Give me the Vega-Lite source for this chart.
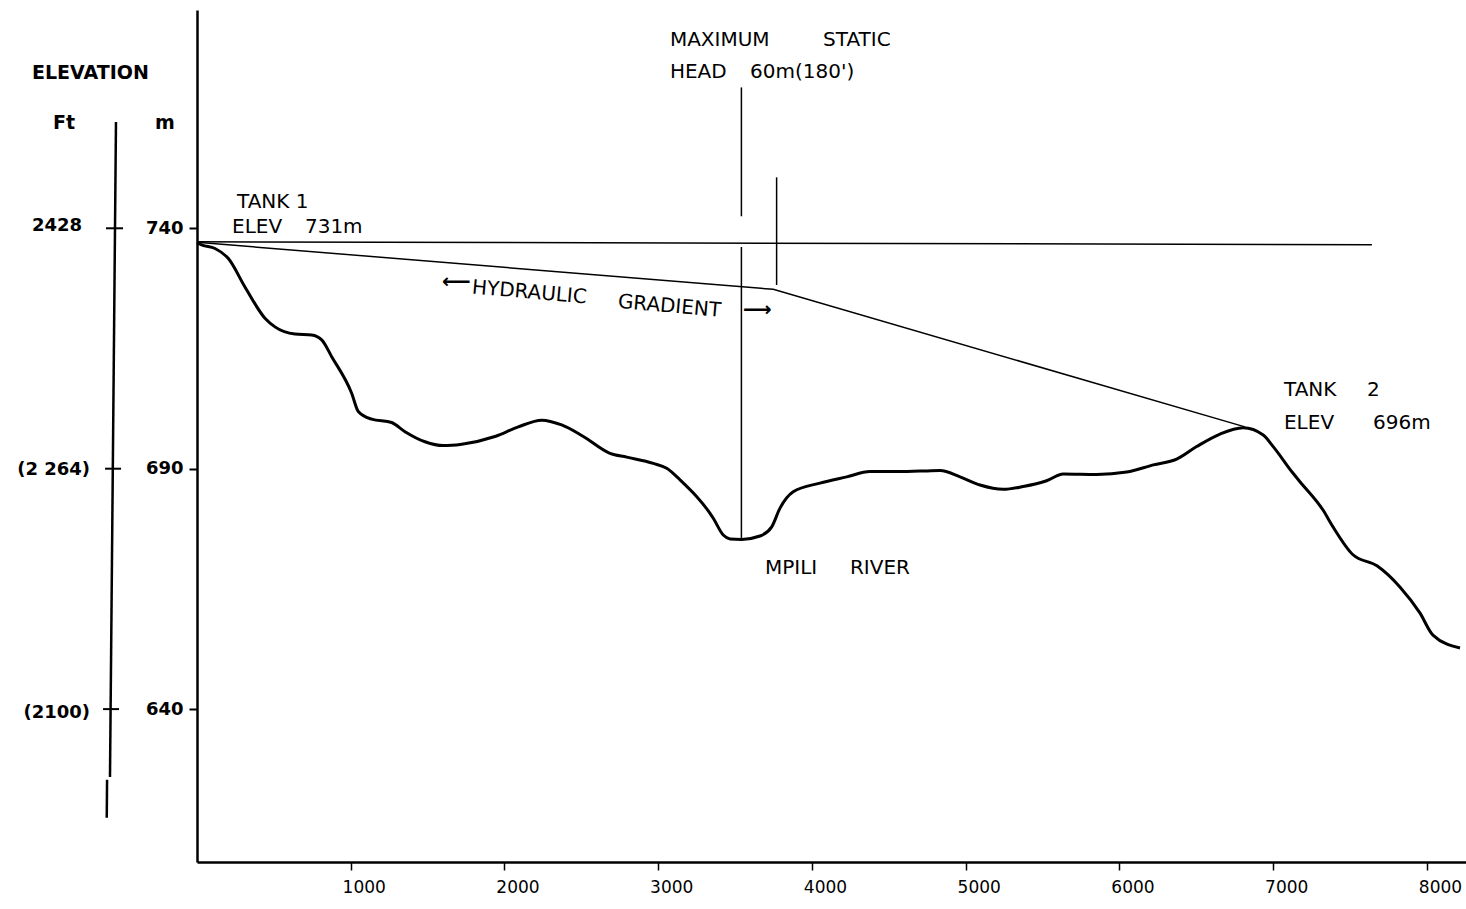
{
  "$schema": "https://vega.github.io/schema/vega-lite/v6.json",
  "width": 1269,
  "height": 852,
  "autosize": "none",
  "padding": {"left": 197, "top": 10, "right": 0, "bottom": 47},
  "background": "white",
  "config": {
    "view": {"stroke": null},
    "font": "DejaVu Sans",
    "text": {"font": "DejaVu Sans", "color": "black"}
  },
  "datasets": {
    "ground": [
      {"x": 0, "y": 737.0}, {"x": 34, "y": 736.5}, {"x": 117, "y": 735.8}, {"x": 204, "y": 733.7},
      {"x": 312, "y": 727.8}, {"x": 442, "y": 721.3}, {"x": 507, "y": 719.5}, {"x": 637, "y": 718.0},
      {"x": 746, "y": 717.8}, {"x": 811, "y": 716.8}, {"x": 876, "y": 713.3}, {"x": 1006, "y": 705.7},
      {"x": 1049, "y": 701.9}, {"x": 1136, "y": 700.3}, {"x": 1266, "y": 699.6}, {"x": 1353, "y": 697.7},
      {"x": 1483, "y": 695.6}, {"x": 1602, "y": 694.8}, {"x": 1722, "y": 695.1}, {"x": 1938, "y": 696.7},
      {"x": 2090, "y": 698.7}, {"x": 2242, "y": 700.1}, {"x": 2372, "y": 699.1}, {"x": 2513, "y": 696.7},
      {"x": 2686, "y": 693.2}, {"x": 2795, "y": 692.4}, {"x": 2968, "y": 691.1}, {"x": 3055, "y": 690.1},
      {"x": 3141, "y": 687.7}, {"x": 3358, "y": 679.7}, {"x": 3423, "y": 676.2}, {"x": 3467, "y": 675.4},
      {"x": 3543, "y": 675.3}, {"x": 3662, "y": 676.0}, {"x": 3738, "y": 677.9}, {"x": 3792, "y": 681.8},
      {"x": 3878, "y": 685.2}, {"x": 4052, "y": 687.0}, {"x": 4226, "y": 688.3}, {"x": 4377, "y": 689.4},
      {"x": 4529, "y": 689.4}, {"x": 4702, "y": 689.5}, {"x": 4833, "y": 689.6}, {"x": 4963, "y": 688.3},
      {"x": 5093, "y": 686.6}, {"x": 5244, "y": 685.7}, {"x": 5374, "y": 686.3}, {"x": 5526, "y": 687.5},
      {"x": 5634, "y": 688.9}, {"x": 5852, "y": 688.8}, {"x": 6047, "y": 689.3}, {"x": 6220, "y": 690.8},
      {"x": 6372, "y": 692.0}, {"x": 6502, "y": 694.6}, {"x": 6654, "y": 697.2}, {"x": 6805, "y": 698.5},
      {"x": 6935, "y": 697.0}, {"x": 7000, "y": 694.6}, {"x": 7128, "y": 689.1}, {"x": 7174, "y": 687.3},
      {"x": 7324, "y": 681.4}, {"x": 7389, "y": 677.9}, {"x": 7519, "y": 672.1}, {"x": 7675, "y": 669.8},
      {"x": 7824, "y": 665.4}, {"x": 7954, "y": 660.0}, {"x": 8039, "y": 655.4}, {"x": 8215, "y": 652.7}
    ],
    "thin": [
      {"series": "static", "i": 0, "x": 0, "y": 737.2},
      {"series": "static", "i": 1, "x": 7642, "y": 736.6},
      {"series": "hydraulic", "i": 0, "x": 0, "y": 737.1},
      {"series": "hydraulic", "i": 1, "x": 3748, "y": 727.3},
      {"series": "hydraulic", "i": 2, "x": 6816, "y": 698.7},
      {"series": "head_top", "i": 0, "x": 3541, "y": 769.3},
      {"series": "head_top", "i": 1, "x": 3541, "y": 742.5},
      {"series": "head_low", "i": 0, "x": 3541, "y": 736.1},
      {"series": "head_low", "i": 1, "x": 3541, "y": 675.3},
      {"series": "mark", "i": 0, "x": 3770, "y": 750.6},
      {"series": "mark", "i": 1, "x": 3770, "y": 728.2}
    ],
    "ftscale": [
      {"series": "a", "i": 0, "x": -527, "y": 762.1},
      {"series": "a", "i": 1, "x": -566, "y": 625.9},
      {"series": "b", "i": 0, "x": -585, "y": 625.3},
      {"series": "b", "i": 1, "x": -587, "y": 617.4}
    ],
    "fticks": [
      {"x": -592, "x2": -481, "y": 740},
      {"x": -598, "x2": -494, "y": 690},
      {"x": -611, "x2": -507, "y": 640}
    ],
    "ftlabels": [
      {"label": "2428", "x": -748, "y": 740.5},
      {"label": "(2 264)", "x": -696, "y": 689.7},
      {"label": "(2100)", "x": -696, "y": 639.2}
    ],
    "heads": [
      {"label": "ELEVATION", "x": -1073, "y": 772.3},
      {"label": "Ft", "x": -936, "y": 762},
      {"label": "m", "x": -273, "y": 762}
    ],
    "notes": [
      {"label": "MAXIMUM", "x": 3076, "y": 779.1},
      {"label": "STATIC", "x": 4072, "y": 779.1},
      {"label": "HEAD", "x": 3076, "y": 772.6},
      {"label": "60m(180')", "x": 3597, "y": 772.6},
      {"label": "TANK 1", "x": 260, "y": 745.4},
      {"label": "ELEV", "x": 228, "y": 740.2},
      {"label": "731m", "x": 702, "y": 740.2},
      {"label": "MPILI", "x": 3694, "y": 669.4},
      {"label": "RIVER", "x": 4247, "y": 669.4},
      {"label": "TANK", "x": 7070, "y": 706.3},
      {"label": "2", "x": 7610, "y": 706.3},
      {"label": "ELEV", "x": 7070, "y": 699.5},
      {"label": "696m", "x": 7649, "y": 699.5}
    ],
    "arrows": [
      {"label": "⟵", "x": 1593, "y": 728.8},
      {"label": "⟶", "x": 3551, "y": 723.0}
    ],
    "slanted": [
      {"label": "HYDRAULIC", "x": 1789, "y": 727.7},
      {"label": "GRADIENT", "x": 2738, "y": 724.7}
    ]
  },
  "layer": [
    {
      "data": {"name": "ground"},
      "mark": {"type": "line", "color": "black", "strokeWidth": 3, "interpolate": "monotone"},
      "encoding": {
        "x": {
          "field": "x", "type": "quantitative", "title": null,
          "scale": {"domain": [0, 8254], "nice": false, "zero": false},
          "axis": {
            "values": [1000, 2000, 3000, 4000, 5000, 6000, 7000, 8000],
            "format": "d", "grid": false, "domainColor": "black", "domainWidth": 2.5,
            "tickColor": "black", "tickWidth": 1.5, "tickSize": 8,
            "labelFontSize": 17, "labelColor": "black", "labelPadding": 9, "labelOffset": 13,
            "labelFont": "DejaVu Sans"
          }
        },
        "y": {
          "field": "y", "type": "quantitative", "title": null,
          "scale": {"domain": [608.2, 785.4], "nice": false, "zero": false},
          "axis": {
            "values": [640, 690, 740],
            "grid": false, "domainColor": "black", "domainWidth": 2.5,
            "tickColor": "black", "tickWidth": 2, "tickSize": 8,
            "labelFontSize": 18, "labelFontWeight": "bold", "labelColor": "black", "labelPadding": 6,
            "labelFont": "DejaVu Sans"
          }
        }
      }
    },
    {
      "data": {"name": "thin"},
      "mark": {"type": "line", "color": "black", "strokeWidth": 1.5},
      "encoding": {
        "x": {"field": "x", "type": "quantitative", "title": null},
        "y": {"field": "y", "type": "quantitative", "title": null},
        "detail": {"field": "series"},
        "order": {"field": "i"}
      }
    },
    {
      "data": {"name": "ftscale"},
      "mark": {"type": "line", "color": "black", "strokeWidth": 2.5},
      "encoding": {
        "x": {"field": "x", "type": "quantitative", "title": null},
        "y": {"field": "y", "type": "quantitative", "title": null},
        "detail": {"field": "series"},
        "order": {"field": "i"}
      }
    },
    {
      "data": {"name": "fticks"},
      "mark": {"type": "rule", "color": "black", "strokeWidth": 2},
      "encoding": {
        "x": {"field": "x", "type": "quantitative", "title": null},
        "x2": {"field": "x2"},
        "y": {"field": "y", "type": "quantitative", "title": null}
      }
    },
    {
      "data": {"name": "ftlabels"},
      "mark": {"type": "text", "align": "right", "baseline": "middle", "fontSize": 18, "fontWeight": "bold"},
      "encoding": {
        "x": {"field": "x", "type": "quantitative", "title": null},
        "y": {"field": "y", "type": "quantitative", "title": null},
        "text": {"field": "label"}
      }
    },
    {
      "data": {"name": "heads"},
      "mark": {"type": "text", "align": "left", "baseline": "middle", "fontSize": 19, "fontWeight": "bold"},
      "encoding": {
        "x": {"field": "x", "type": "quantitative", "title": null},
        "y": {"field": "y", "type": "quantitative", "title": null},
        "text": {"field": "label"}
      }
    },
    {
      "data": {"name": "notes"},
      "mark": {"type": "text", "align": "left", "baseline": "middle", "fontSize": 20},
      "encoding": {
        "x": {"field": "x", "type": "quantitative", "title": null},
        "y": {"field": "y", "type": "quantitative", "title": null},
        "text": {"field": "label"}
      }
    },
    {
      "data": {"name": "arrows"},
      "mark": {"type": "text", "align": "left", "baseline": "middle", "fontSize": 20, "fontWeight": "bold"},
      "encoding": {
        "x": {"field": "x", "type": "quantitative", "title": null},
        "y": {"field": "y", "type": "quantitative", "title": null},
        "text": {"field": "label"}
      }
    },
    {
      "data": {"name": "slanted"},
      "mark": {"type": "text", "align": "left", "baseline": "middle", "fontSize": 20, "angle": 5},
      "encoding": {
        "x": {"field": "x", "type": "quantitative", "title": null},
        "y": {"field": "y", "type": "quantitative", "title": null},
        "text": {"field": "label"}
      }
    }
  ]
}
